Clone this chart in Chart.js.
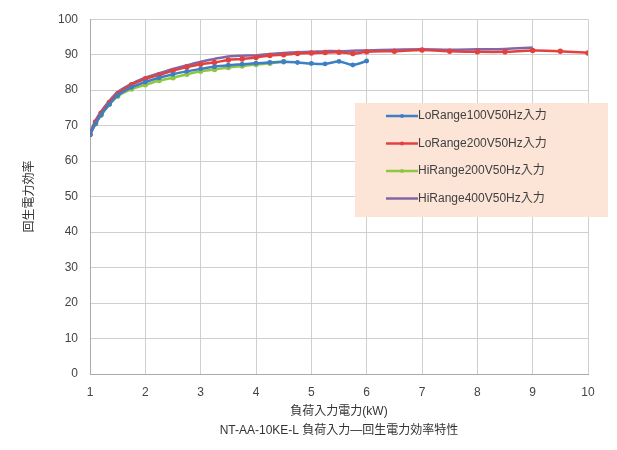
<!DOCTYPE html>
<html>
<head>
<meta charset="utf-8">
<script src="https://cdn.jsdelivr.net/npm/chart.js@4.4.1/dist/chart.umd.min.js"></script>
<style>
  html, body { margin: 0; padding: 0; background: #fff; }
  canvas { display: block; }
</style>
</head>
<body>
<canvas id="chart" width="617" height="450"></canvas>
<script>
// 負荷入力電力 (kW)
const kw = [1, 1.1, 1.2, 1.35, 1.5, 1.75, 2, 2.25, 2.5, 2.75, 3, 3.25, 3.5, 3.75, 4, 4.25, 4.5,
            4.75, 5, 5.25, 5.5, 5.75, 6, 6.5, 7, 7.5, 8, 8.5, 9, 9.5, 10];

const lo100 = [67.5, 70.5, 73, 76, 78.5, 80.8, 82.3, 83.5, 84.5, 85.3, 86, 86.6, 87, 87.3, 87.6, 87.8, 88,
               87.8, 87.5, 87.4, 88.1, 87.1, 88.2];
const lo200 = [67.5, 71, 73.5, 76.5, 79, 81.5, 83.2, 84.3, 85.5, 86.5, 87.3, 87.8, 88.5, 88.8, 89.2, 89.8, 90,
               90.3, 90.5, 90.6, 90.7, 90.3, 90.8, 91, 91.3, 91, 90.8, 90.8, 91.2, 91, 90.5];
const hi200 = [67.5, 70.5, 73, 76, 78.3, 80.3, 81.5, 82.7, 83.5, 84.5, 85.3, 85.8, 86.4, 86.8, 87.2, 87.6, 88];
const hi400 = [68, 71.5, 74, 77, 79.5, 81.8, 83.5, 84.8, 86, 87, 88, 88.8, 89.5, 89.7, 89.8, 90.2, 90.5,
               90.7, 90.8, 91, 91, 91.1, 91.2, 91.4, 91.5, 91.4, 91.5, 91.6, 92];

const names = ['LoRange100V50Hz入力', 'LoRange200V50Hz入力', 'HiRange200V50Hz入力', 'HiRange400V50Hz入力'];
const colors = ['#3d7fc4', '#e2423f', '#8fc643', '#8366a8'];

const font = '"Liberation Sans", Arial, "Noto Sans CJK JP", sans-serif';

function pts(vals) {
    return vals.map((v, i) => ({x: kw[i], y: v}));
}

function series(i, vals, radius) {
    return {
        label: names[i],
        data: pts(vals),
        borderColor: colors[i],
        backgroundColor: colors[i],
        borderWidth: 2.5,
        pointRadius: radius,
        pointHoverRadius: radius,
        tension: 0.3
    };
}

// legend box drawn inside the plot
const boxLegend = {
    id: 'boxLegend',
    afterDraw(chart) {
        const c = chart.ctx;
        c.save();
        c.fillStyle = '#fce5d7';
        c.fillRect(355, 103, 253, 114);
        c.font = '12px ' + font;
        c.textBaseline = 'middle';
        chart.data.datasets.forEach((ds, i) => {
            const y = 116 + i * 27.5;
            c.strokeStyle = ds.borderColor;
            c.lineWidth = 2.5;
            c.beginPath();
            c.moveTo(386, y);
            c.lineTo(418, y);
            c.stroke();
            if (ds.pointRadius > 0) {
                c.fillStyle = ds.borderColor;
                c.beginPath();
                c.arc(402, y, 2, 0, Math.PI * 2);
                c.fill();
            }
            c.fillStyle = '#404040';
            c.fillText(ds.label, 418, y);
        });
        c.restore();
    }
};

new Chart(document.getElementById('chart'), {
    type: 'line',
    data: {
        datasets: [
            series(0, lo100, 1.2),
            series(1, lo200, 1.5),
            series(2, hi200, 1.5),
            series(3, hi400, 0)
        ]
    },
    options: {
        responsive: false,
        animation: false,
        layout: { padding: { top: 19, right: 29, left: 0, bottom: 0 } },
        scales: {
            x: {
                type: 'linear',
                min: 1,
                max: 10,
                afterFit(scale) { scale.height = 76; },
                ticks: { stepSize: 1, color: '#444', font: { family: font, size: 12 }, padding: 11 },
                grid: { color: '#cfcfcf', lineWidth: 1, tickLength: 0 },
                border: { color: '#aaaaaa' },
                title: {
                    display: true,
                    text: ['負荷入力電力(kW)', 'NT-AA-10KE-L 負荷入力—回生電力効率特性'],
                    color: '#333',
                    font: { family: font, size: 12, lineHeight: 1.6 },
                    padding: { top: 4, bottom: 10 }
                }
            },
            y: {
                min: 0,
                max: 100,
                afterFit(scale) { scale.width = 90; },
                ticks: { stepSize: 10, color: '#444', font: { family: font, size: 12 }, padding: 12 },
                grid: { color: '#cfcfcf', lineWidth: 1, tickLength: 0 },
                border: { color: '#aaaaaa' },
                title: {
                    display: true,
                    text: '回生電力効率',
                    color: '#333',
                    font: { family: font, size: 12 },
                    padding: { top: 22, bottom: 4 }
                }
            }
        },
        plugins: {
            legend: { display: false },
            tooltip: { enabled: false }
        }
    },
    plugins: [boxLegend]
});
</script>
</body>
</html>
